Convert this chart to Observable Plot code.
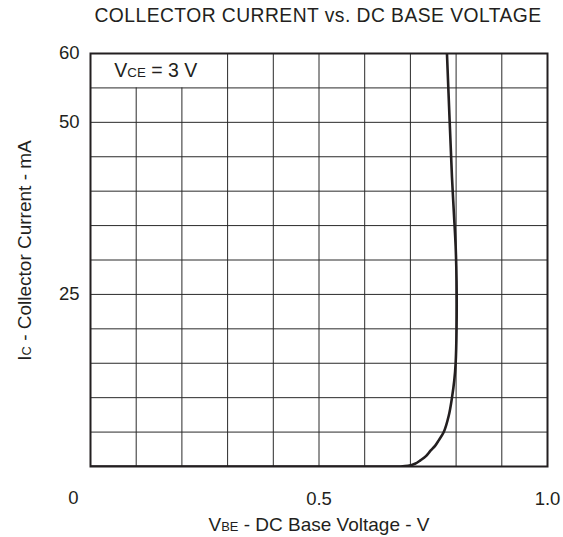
<!DOCTYPE html>
<html>
<head>
<meta charset="utf-8">
<script src="https://cdn.jsdelivr.net/npm/d3@7"></script>
<script src="https://cdn.jsdelivr.net/npm/@observablehq/plot@0.6"></script>
<style>
  html, body { margin: 0; padding: 0; background: #fff; }
  #chart svg { display: block; }
</style>
</head>
<body>
<div id="chart"></div>
<script>
// Curve: base-emitter voltage (V) vs collector current (mA), VCE = 3 V
const vbe = [0, 0.60, 0.675, 0.695, 0.710, 0.722, 0.734, 0.744, 0.754, 0.762, 0.773, 0.784, 0.791, 0.796, 0.799, 0.801, 0.801, 0.799, 0.795, 0.791, 0.786, 0.780];
const ic  = [0, 0,    0,     0.1,   0.4,   0.9,   1.5,   2.3,   3.0,   3.8,   5,     7.4,   10,    12.5,  15,    20,    27,    32,    37,    42,    50,    60];

// Grid and ticks
const xGrid = [0.1, 0.2, 0.3, 0.4, 0.5, 0.6, 0.7, 0.8, 0.9];
const yGrid = [5, 10, 15, 20, 25, 30, 35, 40, 45, 50, 55];
const xTicks = [0.5, 1.0];
const yTicks = [25, 50, 60];
const originLabel = ["0"];

// Texts ("|" marks subscript parts)
const titleText = ["COLLECTOR CURRENT vs. DC BASE VOLTAGE"];
const xLabel = ["V|BE| - DC Base Voltage - V"];
const yLabel = ["I|C| - Collector Current - mA"];
const condLabel = ["V|CE| = 3 V"];

const curve = vbe.map((v, i) => ({vbe: v, ic: ic[i]}));
const ink = "#231f20";
const font = "'Liberation Sans', Arial, Helvetica, sans-serif";

const chart = Plot.plot({
  width: 563,
  height: 537,
  marginTop: 53,
  marginBottom: 71,
  marginLeft: 90,
  marginRight: 16,
  style: {fontFamily: font, color: ink, background: "#fff", overflow: "visible"},
  x: {domain: [0, 1]},
  y: {domain: [0, 60]},
  marks: [
    Plot.ruleX(xGrid, {x: d => d, y1: 0, y2: d => d < 0.3 ? 55 : 60, stroke: "#2a2a2a", strokeWidth: 1}),
    Plot.ruleY(yGrid, {y: d => d, stroke: "#2a2a2a", strokeWidth: 1}),
    Plot.frame({stroke: ink, strokeWidth: 2}),
    Plot.line(curve, {x: "vbe", y: "ic", stroke: ink, strokeWidth: 2.6, curve: "catmull-rom", clip: true}),
    Plot.axisY(yTicks, {tickSize: 0, tickPadding: 11, fontSize: 18.5, label: null}),
    Plot.axisX(xTicks, {tickSize: 0, tickPadding: 25, fontSize: 18.5, label: null, tickFormat: d => d.toFixed(1)}),
    Plot.text(originLabel, {frameAnchor: "bottom-left", text: d => d, textAnchor: "middle", dx: -17, dy: 31.5, lineAnchor: "middle", fontSize: 18.5}),
    Plot.text(titleText, {frameAnchor: "top", text: d => d, textAnchor: "middle", dx: -1, dy: -38, lineAnchor: "middle", fontSize: 19.3, fill: ink}),
    Plot.text(xLabel, {frameAnchor: "bottom", text: d => d, textAnchor: "middle", dy: 58.5, lineAnchor: "middle", fontSize: 19}),
    Plot.text(yLabel, {frameAnchor: "left", text: d => d, textAnchor: "middle", dx: -66, dy: -9.5, rotate: -90, lineAnchor: "middle", fontSize: 19}),
    Plot.text(condLabel, {x: 0.143, y: 57.5, text: d => d, textAnchor: "middle", lineAnchor: "middle", fontSize: 19.5})
  ]
});

document.getElementById("chart").appendChild(chart);

// Render subscripts as tspans
d3.select(chart).selectAll("text").each(function() {
  const t = this.textContent;
  if (t.indexOf("|") < 0) return;
  const parts = t.split("|");
  const sel = d3.select(this);
  sel.text(null);
  const fs = parseFloat(getComputedStyle(this).fontSize) || 19;
  parts.forEach((p, i) => {
    const ts = sel.append("tspan").text(p);
    if (i === 1) ts.attr("font-size", (fs * 0.68).toFixed(1));
  });
});
// letter spacing on title
d3.select(chart).selectAll("text").filter(function() { return this.textContent === titleText[0]; })
  .attr("letter-spacing", "0.45");
</script>
</body>
</html>
